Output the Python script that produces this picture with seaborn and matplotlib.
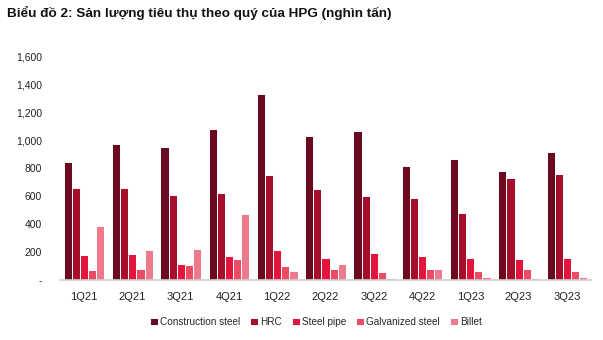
import matplotlib
matplotlib.use("Agg")
import matplotlib.pyplot as plt
import seaborn as sns
import pandas as pd
from matplotlib.ticker import FuncFormatter

quarters = ["1Q21", "2Q21", "3Q21", "4Q21", "1Q22", "2Q22", "3Q22", "4Q22", "1Q23", "2Q23", "3Q23"]
construction_steel = [849, 978, 952, 1085, 1336, 1033, 1069, 815, 866, 782, 916]
hrc = [658, 662, 607, 622, 755, 653, 605, 588, 478, 729, 760]
steel_pipe = [179, 186, 117, 175, 213, 155, 196, 170, 155, 151, 158]
galvanized_steel = [72, 79, 107, 151, 100, 77, 57, 77, 64, 79, 62]
billet = [387, 213, 220, 471, 64, 112, 17, 77, 21, 14, 21]
series_names = ["Construction steel", "HRC", "Steel pipe", "Galvanized steel", "Billet"]
colors = ["#6a0b1f", "#a50f2b", "#e2163d", "#ea4b65", "#f07a8d"]

series_values = [construction_steel, hrc, steel_pipe, galvanized_steel, billet]
rows = []
for name, vals in zip(series_names, series_values):
    for q, v in zip(quarters, vals):
        rows.append({"quarter": q, "series": name, "value": v})
df = pd.DataFrame(rows)

sns.set_theme(style="white")
plt.rcParams['font.family'] = ['Liberation Sans', 'DejaVu Sans']

fig = plt.figure(figsize=(6.03, 3.40), dpi=100)
ax = fig.add_axes([60/603, 1-280/340, 531/603, 223/340])

sns.barplot(data=df, x="quarter", y="value", hue="series", order=quarters,
            hue_order=series_names, palette=colors, width=0.84, saturation=1,
            edgecolor="white", linewidth=0.7, ax=ax, legend=True)

ax.set_xlim(-0.5, 10.5)
ax.set_ylim(0, 1600)
ax.set_yticks(range(0, 1601, 200))
ax.yaxis.set_major_formatter(FuncFormatter(lambda v, p: "-" if v == 0 else f"{int(v):,}"))
ax.set_xlabel("")
ax.set_ylabel("")
for s in ["top", "right", "left"]:
    ax.spines[s].set_visible(False)
ax.spines["bottom"].set_color("#d0d0d0")
ax.spines["bottom"].set_linewidth(1.2)
ax.tick_params(axis="y", length=0, pad=13, labelsize=7.5, labelcolor="#222222")
ax.tick_params(axis="x", length=0, pad=9, labelsize=8, labelcolor="#222222")

handles, labels = ax.get_legend_handles_labels()
ax.legend_.remove()
fig.legend(handles, labels, loc="center", bbox_to_anchor=(316/603, 1-322/340), ncol=5,
           frameon=False, fontsize=7.2, handlelength=0.75, handleheight=0.75,
           handletextpad=0.25, columnspacing=1.0)

fig.text(7/603, 1-13/340, "Biểu đồ 2: Sản lượng tiêu thụ theo quý của HPG (nghìn tấn)",
         fontsize=9.7, fontweight="bold", va="center", ha="left", color="#111111")

fig.savefig("out.png", dpi=100)
